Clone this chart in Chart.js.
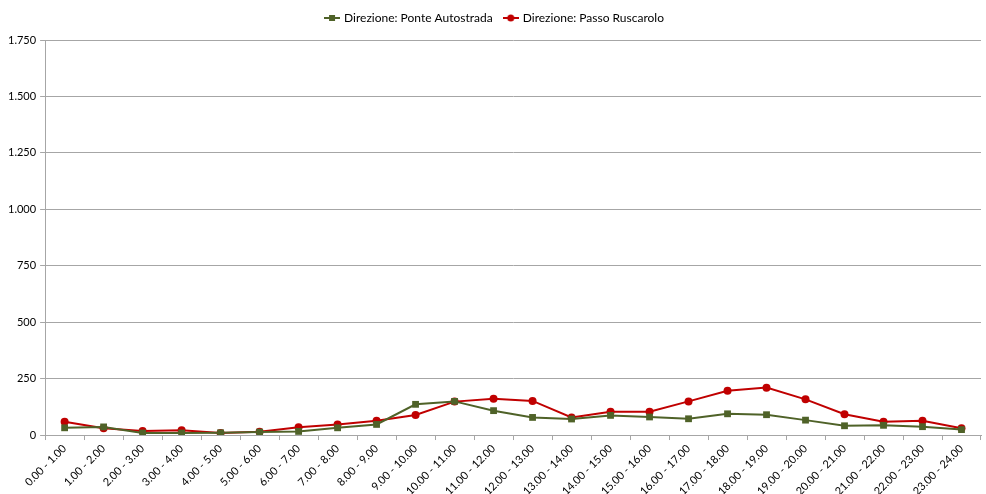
<!DOCTYPE html>
<html>
<head>
<meta charset="utf-8">
<script src="https://cdn.jsdelivr.net/npm/chart.js@4.4.1/dist/chart.umd.min.js"></script>
<style>
  html, body { margin: 0; padding: 0; background: #fff; }
  #wrap { width: 986px; height: 494px; }
</style>
</head>
<body>
<div id="wrap"><canvas id="grafico"></canvas></div>
<script>
// Fasce orarie
const fasce = [
  "0.00 - 1.00", "1.00 - 2.00", "2.00 - 3.00", "3.00 - 4.00", "4.00 - 5.00", "5.00 - 6.00",
  "6.00 - 7.00", "7.00 - 8.00", "8.00 - 9.00", "9.00 - 10.00", "10.00 - 11.00", "11.00 - 12.00",
  "12.00 - 13.00", "13.00 - 14.00", "14.00 - 15.00", "15.00 - 16.00", "16.00 - 17.00", "17.00 - 18.00",
  "18.00 - 19.00", "19.00 - 20.00", "20.00 - 21.00", "21.00 - 22.00", "22.00 - 23.00", "23.00 - 24.00"
];

// Veicoli per direzione
const ponteAutostrada = [32, 36, 9, 9, 10, 13, 16, 32, 47, 136, 149, 108, 78, 71, 87, 80, 72, 94, 90, 66, 41, 43, 37, 24];
const passoRuscarolo = [59, 30, 18, 21, 9, 15, 34, 47, 63, 89, 148, 161, 151, 78, 103, 103, 149, 196, 210, 158, 92, 59, 63, 30];

const nomiSerie = ["Direzione: Ponte Autostrada", "Direzione: Passo Ruscarolo"];
const coloriSerie = ["#4F6228", "#C00000"];

const fontBase = "Lato, 'Open Sans', 'Liberation Sans', sans-serif";

// Icona legenda: linea + marcatore, come in Excel
function iconaLegenda(colore, forma) {
    const c = document.createElement("canvas");
    c.width = 16; c.height = 10;
    const g = c.getContext("2d");
    g.strokeStyle = colore;
    g.lineWidth = 2;
    g.beginPath();
    g.moveTo(0, 5); g.lineTo(16, 5);
    g.stroke();
    g.fillStyle = colore;
    if (forma === "rect") {
        g.fillRect(5, 2, 6, 6);
    } else {
        g.beginPath();
        g.arc(8, 5, 3.5, 0, Math.PI * 2);
        g.fill();
    }
    return c;
}

const icone = [iconaLegenda(coloriSerie[0], "rect"), iconaLegenda(coloriSerie[1], "circle")];

// Spazio extra sotto la legenda
const spazioLegenda = {
    id: "spazioLegenda",
    beforeInit(chart) {
        const fitOrig = chart.legend.fit;
        chart.legend.fit = function() {
            fitOrig.bind(chart.legend)();
            this.height += 6;
        };
    }
};

new Chart(document.getElementById("grafico"), {
    type: "line",
    data: {
        labels: fasce,
        datasets: [
            {
                label: nomiSerie[0],
                data: ponteAutostrada,
                borderColor: coloriSerie[0],
                backgroundColor: coloriSerie[0],
                borderWidth: 2,
                pointStyle: "rect",
                pointRadius: 4.8,
                pointBorderWidth: 0,
                pointHoverRadius: 5,
                tension: 0
            },
            {
                label: nomiSerie[1],
                data: passoRuscarolo,
                borderColor: coloriSerie[1],
                backgroundColor: coloriSerie[1],
                borderWidth: 2,
                pointStyle: "circle",
                pointRadius: 4,
                pointBorderWidth: 0,
                pointHoverRadius: 5,
                tension: 0
            }
        ]
    },
    options: {
        responsive: true,
        maintainAspectRatio: false,
        animation: false,
        layout: { padding: { left: 4, right: 0, top: 0, bottom: -6 } },
        plugins: {
            legend: {
                position: "top",
                labels: {
                    usePointStyle: true,
                    color: "#000",
                    font: { family: fontBase, size: 12 },
                    boxWidth: 16,
                    padding: 12,
                    generateLabels: function(chart) {
                        return chart.data.datasets.map((ds, i) => ({
                            text: ds.label,
                            pointStyle: icone[i],
                            fillStyle: ds.borderColor,
                            strokeStyle: ds.borderColor,
                            fontColor: "#000",
                            lineWidth: 0,
                            datasetIndex: i
                        }));
                    }
                }
            },
            tooltip: { enabled: true }
        },
        scales: {
            x: {
                offset: true,
                grid: {
                    display: true,
                    offset: true,
                    drawOnChartArea: false,
                    drawTicks: true,
                    tickLength: 5,
                    color: "#A6A6A6"
                },
                border: { color: "#A6A6A6", width: 1 },
                ticks: {
                    color: "#000",
                    font: { family: fontBase, size: 11 },
                    maxRotation: 45,
                    minRotation: 45,
                    autoSkip: false,
                    padding: 2
                }
            },
            y: {
                min: 0,
                max: 1750,
                grid: {
                    color: "#A6A6A6",
                    tickLength: 5
                },
                border: { color: "#A6A6A6", width: 1 },
                ticks: {
                    stepSize: 250,
                    color: "#000",
                    font: { family: fontBase, size: 11 },
                    padding: 4,
                    callback: function(valore) {
                        return valore.toString().replace(/\B(?=(\d{3})+(?!\d))/g, ".");
                    }
                }
            }
        }
    },
    plugins: [spazioLegenda]
});
</script>
</body>
</html>
